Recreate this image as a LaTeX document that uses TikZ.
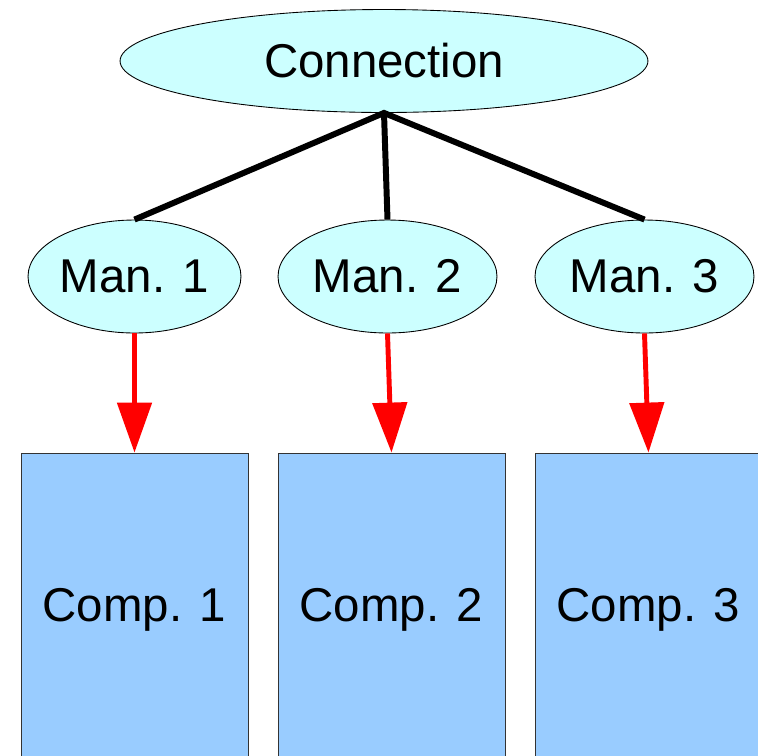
\documentclass[tikz,border=0pt]{standalone}
\usepackage{fontspec}
\setmainfont{Liberation Sans}
\usetikzlibrary{shapes.geometric,arrows.meta}
\definecolor{mancyan}{HTML}{CCFFFF}
\definecolor{compblue}{HTML}{99CCFF}
\begin{document}
\begin{tikzpicture}[x=0.02cm,y=-0.02cm,
	oval/.style={draw,ellipse,fill=mancyan,line width=.5pt,inner sep=0pt,font=\fontsize{27}{32}\selectfont},
	comp/.style={draw=black!80,fill=compblue,line width=.5pt,minimum width=4.54cm,minimum height=6.08cm,inner sep=0pt,text depth=0pt,font=\fontsize{27}{32}\selectfont},
	link/.style={line width=3.4pt},
	feed/.style={red,line width=2.8pt,-{Triangle[width=.68cm,length=1cm]}}]
\useasboundingbox (0,0) rectangle (758,755);
\clip (0,0) rectangle (758,755);
\node[oval,minimum width=10.56cm,minimum height=2.06cm] (conn) at (384,61) {Connection};
\node[oval,minimum width=4.26cm,minimum height=2.26cm] (man1) at (134.5,276.5) {Man. 1};
\node[oval,minimum width=4.38cm,minimum height=2.26cm] (man2) at (387.5,276.5) {Man. 2};
\node[oval,minimum width=4.38cm,minimum height=2.26cm] (man3) at (644.5,276.5) {Man. 3};
\node[comp] (comp1) at (134.5,605) {Comp. 1};
\node[comp] (comp2) at (391.5,605) {Comp. 2};
\node[comp] (comp3) at (648.5,605) {Comp. 3};
% tree from the connection down to the managers
\draw[link] (man1.north) -- (conn.south) -- (man3.north);
\draw[link] (conn.south) -- (man2.north);
% each manager feeds its component
\draw[feed] (man1.south) -- (comp1.north);
\draw[feed] (man2.south) -- (comp2.north);
\draw[feed] (man3.south) -- (comp3.north);
\end{tikzpicture}
\end{document}
